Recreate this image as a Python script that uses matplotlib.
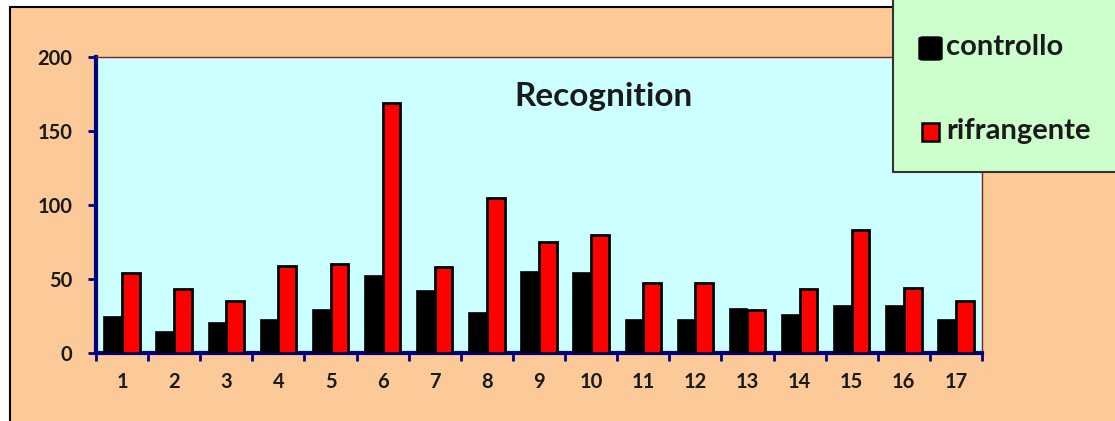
import numpy as np
import matplotlib
matplotlib.use("Agg")
from matplotlib import pyplot as plt, patches

plt.rcParams['font.family'] = ['Lato', 'DejaVu Sans']

categories = [str(i) for i in range(1, 18)]
controllo = [24, 14, 20, 22, 29, 52, 42, 27, 55, 54, 22, 22, 30, 26, 32, 32, 22]
rifrangente = [54, 43, 35, 59, 60, 169, 58, 105, 75, 80, 47, 47, 29, 43, 83, 44, 35]

fig = plt.figure(figsize=(11.15, 4.21), dpi=100)
fig.patch.set_facecolor('white')

# fondo pesca del grafico con bordo nero
fig.add_artist(patches.Rectangle((10 / 1115, -0.1), 1.2, 1.1 - 7 / 421,
                                 transform=fig.transFigure, facecolor='#FCCA99',
                                 edgecolor='black', linewidth=1.5, zorder=0))

ax = fig.add_axes([96 / 1115, 1 - 353 / 421, 886 / 1115, 296 / 421])
ax.set_facecolor('#CCFFFF')

x = np.arange(len(categories))
w = 0.34
ax.bar(x - w / 2, controllo, width=w, color='black', edgecolor='black', linewidth=1.2, zorder=3)
ax.bar(x + w / 2, rifrangente, width=w, color='#FF0000', edgecolor='black', linewidth=2, zorder=3)

ax.set_xlim(-0.5, len(categories) - 0.5)
ax.set_ylim(0, 200)
ax.set_yticks([0, 50, 100, 150, 200])
ax.set_xticks(x)
ax.set_xticklabels(categories)
ax.set_xticks(np.arange(-0.5, len(categories)), minor=True)
ax.tick_params(axis='x', which='major', length=0, pad=14)
ax.tick_params(axis='x', which='minor', length=6, width=2, color='#000080', direction='out')
ax.tick_params(axis='y', length=6, width=2, color='#000080', direction='out', pad=11)
for lab in ax.get_xticklabels() + ax.get_yticklabels():
    lab.set_fontweight('bold')
    lab.set_fontsize(14.5)
    lab.set_color('#1a1a1a')

ax.spines['left'].set_color('#000080')
ax.spines['left'].set_linewidth(3)
ax.spines['bottom'].set_color('#000080')
ax.spines['bottom'].set_linewidth(3)
ax.spines['top'].set_color('#7a2020')
ax.spines['top'].set_linewidth(1)
ax.spines['right'].set_color('#7a2020')
ax.spines['right'].set_linewidth(1)

ax.text(0.573, 0.865, 'Recognition', transform=ax.transAxes, ha='center', va='center',
        fontsize=24, fontweight='bold', color='#1a1a1a')

# legenda
fig.add_artist(patches.Rectangle((893 / 1115, 1 - 172 / 421), 0.3, 165 / 421 + 0.1,
                                 transform=fig.transFigure, facecolor='#CCFFCC',
                                 edgecolor='#333333', linewidth=1.5, zorder=5))
fig.add_artist(patches.FancyBboxPatch((919 / 1115, 1 - 60 / 421), 23 / 1115, 23 / 421,
                                      boxstyle='round,pad=0,rounding_size=0.004',
                                      transform=fig.transFigure, facecolor='black',
                                      edgecolor='black', zorder=6))
fig.add_artist(patches.Rectangle((922 / 1115, 1 - 141 / 421), 17 / 1115, 18 / 421,
                                 transform=fig.transFigure, facecolor='#FF0000',
                                 edgecolor='black', linewidth=1.8, zorder=6))
fig.text(946 / 1115, 1 - 47 / 421, 'controllo', fontsize=21, fontweight='bold',
         va='center', ha='left', color='#1a1a1a', zorder=7)
fig.text(946 / 1115, 1 - 131 / 421, 'rifrangente', fontsize=21, fontweight='bold',
         va='center', ha='left', color='#1a1a1a', zorder=7)

fig.savefig('out.png', dpi=100)
